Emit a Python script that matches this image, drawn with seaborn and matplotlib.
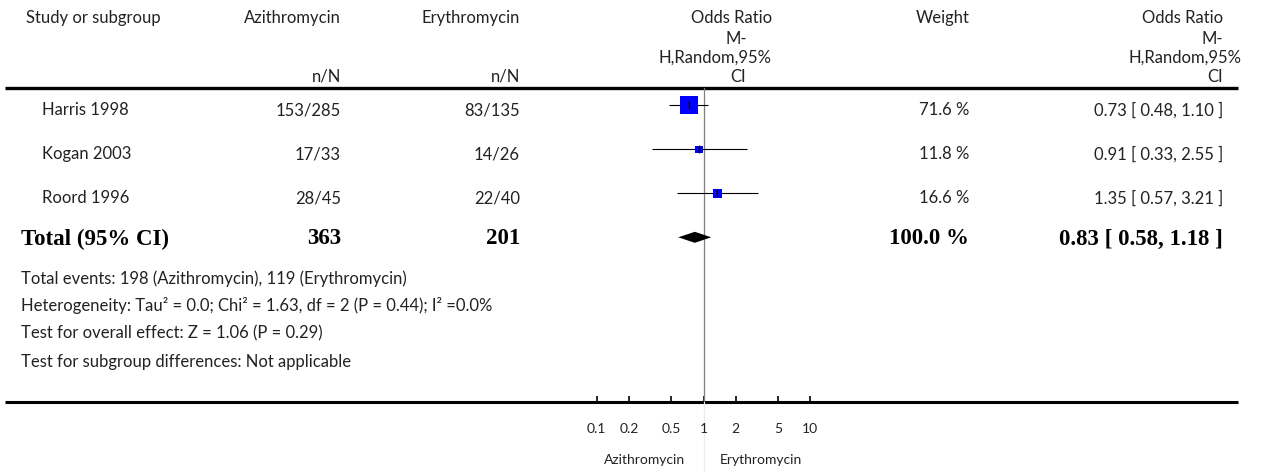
import matplotlib
matplotlib.use("Agg")
import matplotlib.pyplot as plt
from matplotlib.ticker import NullLocator
import numpy as np
import pandas as pd
import seaborn as sns

# ---- trial data -------------------------------------------------------
studies = ["Harris 1998", "Kogan 2003", "Roord 1996"]
azi_events = [153, 17, 28]
azi_totals = [285, 33, 45]
ery_events = [83, 14, 22]
ery_totals = [135, 26, 40]
weights = [71.6, 11.8, 16.6]
odds_ratios = [0.73, 0.91, 1.35]
ci_lower = [0.48, 0.33, 0.57]
ci_upper = [1.10, 2.55, 3.21]

pooled_or = 0.83
pooled_lower = 0.58
pooled_upper = 1.18
pooled_weight = 100.0

tick_values = [0.1, 0.2, 0.5, 1, 2, 5, 10]
tick_labels = ["0.1", "0.2", "0.5", "1", "2", "5", "10"]

footer_lines = [
    "Total events: 198 (Azithromycin), 119 (Erythromycin)",
    "Heterogeneity: Tau\u00b2 = 0.0; Chi\u00b2 = 1.63, df = 2 (P = 0.44); I\u00b2 =0.0%",
    "Test for overall effect: Z = 1.06 (P = 0.29)",
    "Test for subgroup differences: Not applicable",
]

# ---- style --------------------------------------------------------------
sns.set_theme(style="white")
plt.rcParams["font.family"] = ["Lato", "DejaVu Sans"]
TXT = "#222222"
SANS = 12
BOLD = dict(family=["Liberation Serif", "DejaVu Serif"], fontweight="bold",
            fontsize=16.5, color="black")

W, H = 1266, 472
fig = plt.figure(figsize=(W / 100, H / 100), dpi=100)
fig.patch.set_facecolor("white")

# full-figure layer (pixel units) for the table text and rules
ov = fig.add_axes([0, 0, 1, 1])
ov.set_xlim(0, W)
ov.set_ylim(H, 0)
ov.axis("off")

# plot panel on a log odds-ratio scale
x_lo_px, x_hi_px = 596.7, 810.3
top_px, bot_px = 88, 402
row0_px, row_step = 105.3, 44.0
ax = fig.add_axes([x_lo_px / W, 1 - bot_px / H,
                   (x_hi_px - x_lo_px) / W, (bot_px - top_px) / H])
ax.set_facecolor("none")
ax.set_xscale("log")
ax.set_xlim(tick_values[0], tick_values[-1])
ax.set_ylim((bot_px - row0_px) / row_step, (top_px - row0_px) / row_step)
for sp in ax.spines.values():
    sp.set_visible(False)

rows = np.arange(len(studies))
total_row = len(studies)

# line of no effect
ax.axvline(1, color="#7f7f7f", lw=0.9, zorder=1)
ax.axvline(1, ymin=-(H - bot_px) / (bot_px - top_px), ymax=0,
           color="#ececec", lw=0.9, clip_on=False, zorder=0)

# confidence intervals
ax.hlines(rows, ci_lower, ci_upper, color="black", lw=0.8, zorder=2)

# study boxes, area proportional to weight
df = pd.DataFrame({"or": odds_ratios, "row": rows, "weight": weights})
max_area = 168.0
sns.scatterplot(data=df, x="or", y="row", size="weight",
                sizes=(max_area * min(weights) / max(weights), max_area),
                size_norm=(min(weights), max(weights)),
                marker="s", color="#0000ff", edgecolor="none", linewidth=0,
                legend=False, ax=ax, zorder=3)
ax.scatter(odds_ratios, rows, marker="|", s=30, color="black", lw=0.8, zorder=4)

# pooled estimate diamond
half_h = 5.5 / row_step
ax.fill([pooled_lower, pooled_or, pooled_upper, pooled_or],
        [total_row, total_row - half_h, total_row, total_row + half_h],
        color="black", lw=0, zorder=3)

ax.set_xlabel("")
ax.set_ylabel("")
ax.set_yticks([])
ax.set_xticks(tick_values)
ax.set_xticklabels(tick_labels)
ax.xaxis.set_minor_locator(NullLocator())
ax.tick_params(axis="x", bottom=True, direction="in", length=4.3, width=1.2,
               pad=15, labelsize=10, color="black", labelcolor=TXT)

# rules
ov.plot([5, 1238], [top_px, top_px], color="black", lw=2.4,
        solid_capstyle="butt")
ov.plot([5, 1238], [bot_px, bot_px], color="black", lw=2.2,
        solid_capstyle="butt")

def put(x, y, s, ha="left", **kw):
    opts = dict(fontsize=SANS, color=TXT)
    opts.update(kw)
    ov.text(x, y, s, ha=ha, va="center", **opts)

# column headers
put(26, 18, "Study or subgroup")
put(341, 18, "Azithromycin", ha="right")
put(341, 77, "n/N", ha="right")
put(520, 18, "Erythromycin", ha="right")
put(520, 77, "n/N", ha="right")
put(772, 18, "Odds Ratio", ha="right")
put(747, 39, "M-", ha="right")
put(772, 58, "H,Random,95%", ha="right")
put(746, 77, "CI", ha="right")
put(970, 18, "Weight", ha="right")
put(1223, 18, "Odds Ratio", ha="right")
put(1223, 39, "M-", ha="right")
put(1241, 58, "H,Random,95%", ha="right")
put(1223, 77, "CI", ha="right")

# study rows
for i, name in enumerate(studies):
    y = row0_px + row_step * i + 4.7
    put(42, y, name)
    put(341, y, f"{azi_events[i]}/{azi_totals[i]}", ha="right")
    put(520, y, f"{ery_events[i]}/{ery_totals[i]}", ha="right")
    put(969, y, f"{weights[i]:.1f} %", ha="right")
    put(1223, y, f"{odds_ratios[i]:.2f} [ {ci_lower[i]:.2f}, {ci_upper[i]:.2f} ]",
        ha="right")

# totals row
yt = row0_px + row_step * total_row + 1.7
ov.text(21, yt, "Total (95% CI)", ha="left", va="center", **BOLD)
ov.text(341, yt, f"{sum(azi_totals)}", ha="right", va="center", **BOLD)
ov.text(520, yt, f"{sum(ery_totals)}", ha="right", va="center", **BOLD)
ov.text(969, yt, f"{pooled_weight:.1f} %", ha="right", va="center", **BOLD)
ov.text(1223, yt, f"{pooled_or:.2f} [ {pooled_lower:.2f}, {pooled_upper:.2f} ]",
        ha="right", va="center", **BOLD)

# summary statistics
for y, line in zip([279, 305, 333, 362], footer_lines):
    put(21, y, line)

# direction labels under the scale
put(685, 460, "Azithromycin", ha="right", fontsize=10)
put(720, 460, "Erythromycin", ha="left", fontsize=10)

fig.savefig("out.png", dpi=100, facecolor="white")
